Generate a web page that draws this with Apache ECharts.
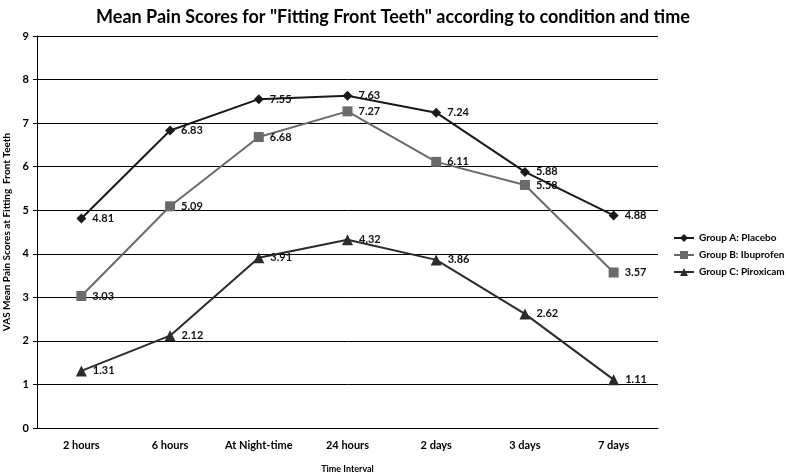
<!DOCTYPE html>
<html><head><meta charset="utf-8">
<script src="https://cdn.jsdelivr.net/npm/echarts@6/dist/echarts.min.js"></script>
<style>html,body{margin:0;padding:0;background:#fff}#c{width:786px;height:472px}</style>
</head><body><div id="c"></div>
<script>
const categories = ["2 hours", "6 hours", "At Night-time", "24 hours", "2 days", "3 days", "7 days"];
const groupA = [4.81, 6.83, 7.55, 7.63, 7.24, 5.88, 4.88];
const groupB = [3.03, 5.09, 6.68, 7.27, 6.11, 5.58, 3.57];
const groupC = [1.31, 2.12, 3.91, 4.32, 3.86, 2.62, 1.11];
const seriesNames = ["Group A: Placebo", "Group B: Ibuprofen", "Group C: Piroxicam"];

const FONT = "Lato";
const chart = echarts.init(document.getElementById('c'));
function mk(name, data, color, symbol, size) {
  return {
    name, type: 'line', data, symbol, symbolSize: size,
    lineStyle: { color, width: 2 }, itemStyle: { color },
    label: { show: true, position: 'right', distance: 6, color: '#111', fontFamily: FONT, fontWeight: 'bold', fontSize: 11,
      formatter: p => p.value.toFixed(2) },
    animation: false
  };
}
chart.setOption({
  animation: false,
  title: { text: 'Mean Pain Scores for "Fitting Front Teeth" according to condition and time', left: 'center', top: 3,
    textStyle: { fontFamily: FONT, fontWeight: 'bold', fontSize: 18, color: '#000' } },
  grid: { left: 37, right: 128, top: 36, bottom: 44, containLabel: false, outerBoundsMode: 'none' },
  legend: { orient: 'vertical', left: 668, top: 228, itemGap: 7, itemWidth: 20, itemHeight: 10,
    textStyle: { fontFamily: FONT, fontSize: 10, color: '#000', fontWeight: 'bold' },
    data: seriesNames },
  xAxis: { type: 'category', data: categories, boundaryGap: true,
    name: 'Time Interval', nameLocation: 'middle', nameGap: 37,
    nameTextStyle: { fontFamily: FONT, fontWeight: 'bold', fontSize: 9, color: '#000' },
    axisLine: { lineStyle: { color: '#000', width: 1 } }, axisTick: { show: false },
    axisLabel: { interval: 0, fontFamily: FONT, fontWeight: 'bold', fontSize: 11, color: '#000', margin: 12 } },
  yAxis: { type: 'value', min: 0, max: 9, interval: 1,
    name: 'VAS Mean Pain Scores at Fitting  Front Teeth', nameLocation: 'middle', nameGap: 22,
    nameTextStyle: { fontFamily: FONT, fontWeight: 'bold', fontSize: 10, color: '#000' },
    axisLine: { show: true, lineStyle: { color: '#000', width: 1 } },
    axisTick: { show: true, length: 4, lineStyle: { color: '#000' } },
    axisLabel: { fontFamily: FONT, fontWeight: 'bold', fontSize: 11, color: '#000', margin: 8 },
    splitLine: { lineStyle: { color: '#000', width: 1 } } },
  series: [
    mk(seriesNames[0], groupA, '#1a1a1a', 'diamond', 10),
    mk(seriesNames[1], groupB, '#6a6a6a', 'rect', 10),
    mk(seriesNames[2], groupC, '#2b2b2b', 'triangle', 11)
  ]
});
</script></body></html>
